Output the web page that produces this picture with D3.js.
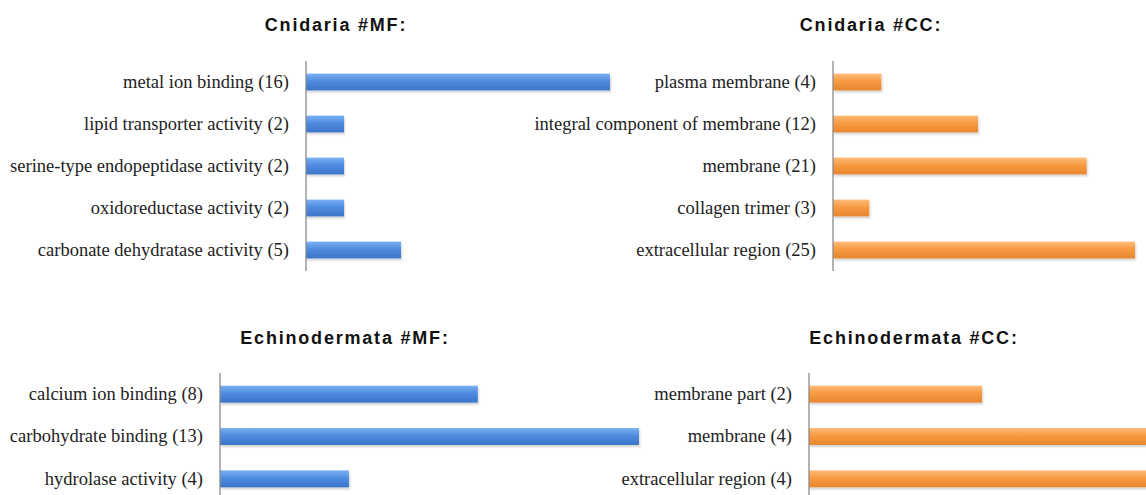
<!DOCTYPE html>
<html>
<head>
<meta charset="utf-8">
<script src="https://cdn.jsdelivr.net/npm/d3@7"></script>
<style>
  body { margin: 0; background: #fff; }
  .title { font-family: 'Liberation Sans', Arial, sans-serif; font-weight: bold; font-size: 18px; letter-spacing: 1.8px; fill: #111; }
</style>
</head>
<body>
<script>
// Cnidaria, molecular function
const cnidariaMfTerms = [
  'metal ion binding (16)',
  'lipid transporter activity (2)',
  'serine-type endopeptidase activity (2)',
  'oxidoreductase activity (2)',
  'carbonate dehydratase activity (5)'
]
const cnidariaMfCounts = [16, 2, 2, 2, 5]

// Cnidaria, cellular component
const cnidariaCcTerms = [
  'plasma membrane (4)',
  'integral component of membrane (12)',
  'membrane (21)',
  'collagen trimer (3)',
  'extracellular region (25)'
]
const cnidariaCcCounts = [4, 12, 21, 3, 25]

// Echinodermata, molecular function
const echinoMfTerms = [
  'calcium ion binding (8)',
  'carbohydrate binding (13)',
  'hydrolase activity (4)'
]
const echinoMfCounts = [8, 13, 4]

// Echinodermata, cellular component
const echinoCcTerms = [
  'membrane part (2)',
  'membrane (4)',
  'extracellular region (4)'
]
const echinoCcCounts = [2, 4, 4]

const width = 1146
const height = 495
const serif = "'Liberation Serif', 'Times New Roman', Times, serif"

const svg = d3.select('body')
  .append('svg')
  .attr('width', width)
  .attr('height', height)

const defs = svg.append('defs')

// bar gradients, lighter on top like the office chart
const gradients = {
  blue: ['#7bb0f2', '#4f8ce0', '#3b74c9'],
  orange: ['#fdbb78', '#f89a40', '#e7862e']
}
Object.entries(gradients).forEach(([name, stops]) => {
  const g = defs.append('linearGradient')
    .attr('id', 'grad-' + name)
    .attr('x1', 0).attr('y1', 0).attr('x2', 0).attr('y2', 1)
  g.append('stop').attr('offset', '0%').attr('stop-color', stops[0])
  g.append('stop').attr('offset', '45%').attr('stop-color', stops[1])
  g.append('stop').attr('offset', '100%').attr('stop-color', stops[2])
})

defs.append('filter')
  .attr('id', 'shadow')
  .attr('x', '-5%').attr('y', '-30%').attr('width', '110%').attr('height', '180%')
  .append('feDropShadow')
  .attr('dx', 1).attr('dy', 2).attr('stdDeviation', 1.2)
  .attr('flood-color', '#000').attr('flood-opacity', 0.18)

// panel layout
const panels = [
  { title: 'Cnidaria #MF:', terms: cnidariaMfTerms, counts: cnidariaMfCounts,
    color: 'blue', x0: 306, max: 16, x1: 610, y0: 61, y1: 271, titleX: 336, titleY: 31 },
  { title: 'Cnidaria #CC:', terms: cnidariaCcTerms, counts: cnidariaCcCounts,
    color: 'orange', x0: 833, max: 25, x1: 1135, y0: 61, y1: 271, titleX: 871, titleY: 31 },
  { title: 'Echinodermata #MF:', terms: echinoMfTerms, counts: echinoMfCounts,
    color: 'blue', x0: 220, max: 13, x1: 639, y0: 373, y1: 500, titleX: 345, titleY: 344 },
  { title: 'Echinodermata #CC:', terms: echinoCcTerms, counts: echinoCcCounts,
    color: 'orange', x0: 809, max: 2, x1: 982, y0: 373, y1: 500, titleX: 914, titleY: 344 }
]

panels.forEach((p) => {
  const x = d3.scaleLinear().domain([0, p.max]).range([p.x0, p.x1])
  const y = d3.scaleBand().domain(p.terms).range([p.y0, p.y1]).paddingInner(0.6).paddingOuter(0.3)

  const g = svg.append('g')

  g.append('text')
    .attr('class', 'title')
    .attr('x', p.titleX)
    .attr('y', p.titleY)
    .attr('text-anchor', 'middle')
    .text(p.title)

  g.selectAll('rect')
    .data(p.terms.map((t, i) => ({ term: t, count: p.counts[i] })))
    .enter()
    .append('rect')
    .attr('x', x(0))
    .attr('y', (d) => y(d.term))
    .attr('width', (d) => x(d.count) - x(0))
    .attr('height', y.bandwidth())
    .attr('fill', `url(#grad-${p.color})`)
    .attr('filter', 'url(#shadow)')

  const axis = g.append('g')
    .attr('transform', `translate(${x(0)},0)`)
    .call(d3.axisLeft(y).tickSize(0).tickPadding(17))
    .attr('font-family', serif)
    .attr('font-size', 18.5)
  axis.selectAll('.tick text')
    .style('font-family', serif)
    .style('font-size', '18.5px')
    .attr('fill', '#222')
  axis.select('.domain').remove()
  axis.append('line')
    .attr('x1', 0).attr('x2', 0)
    .attr('y1', p.y0).attr('y2', p.y1)
    .attr('stroke', '#8a8a8a')
    .attr('stroke-width', 1.3)
})
</script>
</body>
</html>
